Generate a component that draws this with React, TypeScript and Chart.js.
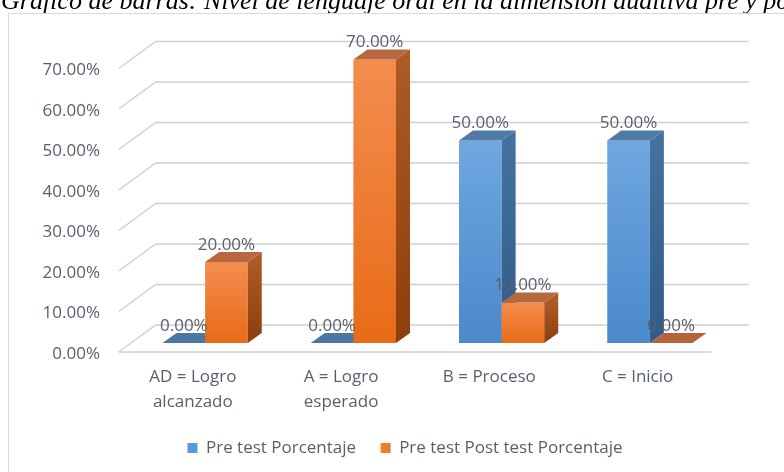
import { useEffect, useRef } from "react";
import { Chart, registerables } from "chart.js";

Chart.register(...registerables);

const TITLE = "Gráfico de barras: Nivel de lenguaje oral en la dimensión auditiva pre y post test";
const categories: (string | string[])[] = [
  ["AD = Logro", "alcanzado"],
  ["A = Logro", "esperado"],
  "B = Proceso",
  "C = Inicio",
];
const seriesNames = ["Pre test Porcentaje", "Pre test Post test Porcentaje"];
const preTest = [0, 0, 50, 50];
const postTest = [20, 70, 10, 0];
const yMin = 0;
const yMax = 70;
const yStep = 10;

const FONT = "'Open Sans', sans-serif";
const TEXT = "#586070";
const FRONT = { dx: -12.3, dy: 9 };
const BACK = { dx: 24.7, dy: -18 };
const DEPTH = { dx: 14, dy: -10 };

const palette = [
  { legend: "#5b9bd5", frontTop: "#6fa7e0", frontBot: "#4a89cb", sideTop: "#44729f", sideBot: "#2e5b88", top: "#5079a6", flat: "#4d77a3" },
  { legend: "#ed7d31", frontTop: "#f38d4f", frontBot: "#e86b17", sideTop: "#ad5a24", sideBot: "#8c3e0b", top: "#b8683f", flat: "#b5633a" },
];

const poly = (ctx: CanvasRenderingContext2D, pts: number[][], fill: string | CanvasGradient) => {
  ctx.beginPath();
  ctx.moveTo(pts[0][0], pts[0][1]);
  for (let i = 1; i < pts.length; i++) ctx.lineTo(pts[i][0], pts[i][1]);
  ctx.closePath();
  ctx.fillStyle = fill;
  ctx.fill();
};

const threeD = {
  id: "threeD",
  beforeDraw(chart: any) {
    const ctx: CanvasRenderingContext2D = chart.ctx;
    ctx.save();
    ctx.fillStyle = "#ffffff";
    ctx.fillRect(0, 0, chart.width, chart.height);
    ctx.font = `italic 26px 'Liberation Serif', serif`;
    ctx.fillStyle = "#000000";
    ctx.textBaseline = "alphabetic";
    ctx.textAlign = "left";
    ctx.fillText(TITLE, 1, 9);
    ctx.strokeStyle = "#d9d9d9";
    ctx.lineWidth = 1;
    ctx.strokeRect(8.5, 13.5, 900, 600);

    const ys = chart.scales.y;
    const { left, right } = chart.chartArea;
    ctx.strokeStyle = "#d0d0d0";
    ctx.lineWidth = 1.4;
    ys.ticks.forEach((t: any) => {
      const py = ys.getPixelForValue(t.value);
      ctx.beginPath();
      ctx.moveTo(left + FRONT.dx, py + FRONT.dy);
      ctx.lineTo(left + BACK.dx, py + BACK.dy);
      ctx.lineTo(right + BACK.dx, py + BACK.dy);
      ctx.stroke();
    });
    const p0 = ys.getPixelForValue(yMin);
    ctx.beginPath();
    ctx.moveTo(left + FRONT.dx, p0 + FRONT.dy);
    ctx.lineTo(right + FRONT.dx, p0 + FRONT.dy);
    ctx.stroke();
    ctx.restore();
  },
  beforeDatasetsDraw(chart: any) {
    const ctx: CanvasRenderingContext2D = chart.ctx;
    ctx.save();
    const n = chart.data.labels.length;
    const nd = chart.data.datasets.length;
    const labels: { x: number; y: number; text: string }[] = [];
    for (let i = 0; i < n; i++) {
      for (let d = 0; d < nd; d++) {
        const el = chart.getDatasetMeta(d).data[i];
        const { x, y, base, width } = el.getProps(["x", "y", "base", "width"], true);
        const c = palette[d];
        const l = x - width / 2;
        const r = x + width / 2;
        const h = base - y;
        if (h > 0.5) {
          const g = ctx.createLinearGradient(0, y, 0, base);
          g.addColorStop(0, c.frontTop);
          g.addColorStop(1, c.frontBot);
          ctx.fillStyle = g;
          ctx.fillRect(l, y, width, h);
          const gs = ctx.createLinearGradient(0, y, 0, base);
          gs.addColorStop(0, c.sideTop);
          gs.addColorStop(1, c.sideBot);
          poly(ctx, [[r, y], [r + DEPTH.dx, y + DEPTH.dy], [r + DEPTH.dx, base + DEPTH.dy], [r, base]], gs);
          poly(ctx, [[l, y], [l + DEPTH.dx, y + DEPTH.dy], [r + DEPTH.dx, y + DEPTH.dy], [r, y]], c.top);
        } else {
          poly(ctx, [[l, base], [l + DEPTH.dx, base + DEPTH.dy], [r + DEPTH.dx, base + DEPTH.dy], [r, base]], c.flat);
        }
        const v = chart.data.datasets[d].data[i] as number;
        labels.push({ x, y, text: `${v.toFixed(2)}%` });
      }
    }
    ctx.font = `17px ${FONT}`;
    ctx.fillStyle = TEXT;
    ctx.textAlign = "center";
    ctx.textBaseline = "middle";
    labels.forEach((lb) => ctx.fillText(lb.text, lb.x, lb.y - 17));
    ctx.restore();
    return false;
  },
};

export default function App() {
  const ref = useRef<HTMLCanvasElement>(null);
  useEffect(() => {
    if (!ref.current) return;
    const chart = new Chart(ref.current, {
      type: "bar",
      data: {
        labels: categories,
        datasets: [
          { label: seriesNames[0], data: preTest, backgroundColor: palette[0].legend },
          { label: seriesNames[1], data: postTest, backgroundColor: palette[1].legend },
        ],
      },
      options: {
        responsive: false,
        animation: false,
        devicePixelRatio: 1,
        layout: { padding: { top: 59.5, left: 26, right: 0, bottom: 5.5 } },
        datasets: { bar: { categoryPercentage: 0.575, barPercentage: 1 } },
        scales: {
          x: {
            grid: { display: false, drawTicks: false },
            border: { display: false },
            ticks: {
              padding: 22,
              labelOffset: -12.3,
              maxRotation: 0,
              autoSkip: false,
              color: TEXT,
              font: { family: FONT, size: 17, lineHeight: 1.45 },
            },
            afterFit: (s: any) => {
              s.height = 72;
            },
          },
          y: {
            min: yMin,
            max: yMax,
            grid: { display: false, drawTicks: false },
            border: { display: false },
            ticks: {
              stepSize: yStep,
              padding: 31,
              labelOffset: 11,
              color: TEXT,
              font: { family: FONT, size: 17 },
              callback: (v: any) => `${Number(v).toFixed(2)}%`,
            },
            afterFit: (s: any) => {
              s.width = 105;
            },
          },
          y2: {
            position: "right",
            display: true,
            grid: { display: false, drawTicks: false },
            border: { display: false },
            ticks: { display: false },
            afterFit: (s: any) => {
              s.width = 60;
            },
          },
        },
        plugins: {
          legend: {
            position: "bottom",
            labels: {
              boxWidth: 10,
              boxHeight: 10,
              padding: 24.5,
              color: TEXT,
              font: { family: FONT, size: 17 },
            },
          },
          tooltip: { enabled: false },
        },
      } as any,
      plugins: [threeD],
    });
    return () => chart.destroy();
  }, []);
  return (
    <div style={{ position: "fixed", left: 0, top: 0, width: 784, height: 472, background: "#fff" }}>
      <canvas ref={ref} width={784} height={472} />
    </div>
  );
}
